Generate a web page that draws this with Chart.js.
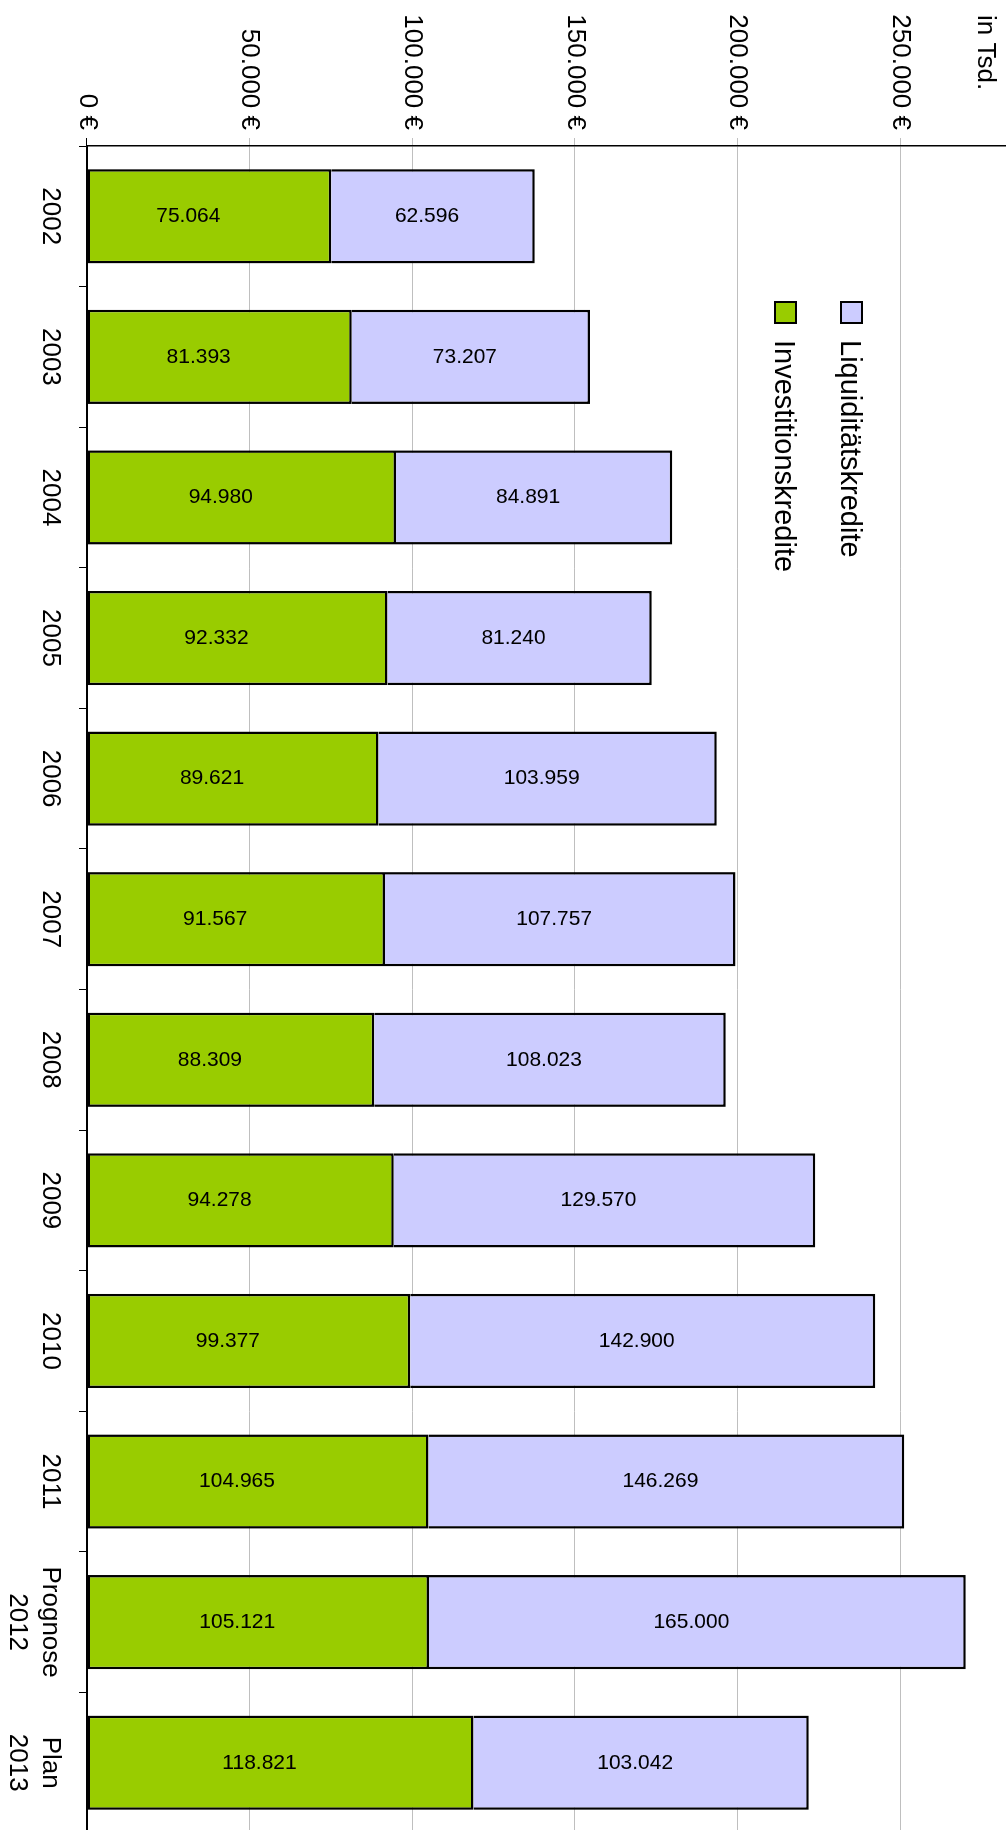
<!DOCTYPE html>
<html>
<head>
<meta charset="utf-8">
<script src="https://cdn.jsdelivr.net/npm/chart.js@4.4.1/dist/chart.umd.min.js"></script>
<style>
html,body{margin:0;padding:0;overflow:hidden;background:#fff;width:1006px;height:1830px;}
#wrap{position:absolute;left:0;top:0;width:1833px;height:1070px;transform-origin:0 0;transform:translate(1070px,0) rotate(90deg);}
canvas{display:block;}
</style>
</head>
<body>
<div id="wrap"><canvas id="c" width="1833" height="1070" style="width:1833px;height:1070px"></canvas></div>
<script>
// ---- data ----
const categories = ['2002','2003','2004','2005','2006','2007','2008','2009','2010','2011',['Prognose','2012'],['Plan','2013']];
const investitionskredite = [75064, 81393, 94980, 92332, 89621, 91567, 88309, 94278, 99377, 104965, 105121, 118821];
const liquiditaetskredite = [62596, 73207, 84891, 81240, 103959, 107757, 108023, 129570, 142900, 146269, 165000, 103042];
const seriesNames = ['Investitionskredite', 'Liquiditätskredite'];
const valueMin = 0, valueMax = 300000, valueStep = 50000;
const unitLabel = 'in Tsd.';

// ---- helpers ----
const FONT = '"Liberation Sans", Arial, sans-serif';
const fmt = v => String(Math.round(v)).replace(/\B(?=(\d{3})+(?!\d))/g, '.');
const labelShift = [21, 6];

const valueLabels = {
  id: 'valueLabels',
  afterDatasetsDraw(chart) {
    const ctx = chart.ctx;
    ctx.save();
    ctx.font = '21px ' + FONT;
    ctx.fillStyle = '#000';
    ctx.textAlign = 'center';
    ctx.textBaseline = 'middle';
    chart.data.datasets.forEach((ds, di) => {
      const meta = chart.getDatasetMeta(di);
      meta.data.forEach((bar, i) => {
        const cy = (bar.y + bar.base) / 2 + labelShift[di];
        ctx.save();
        ctx.translate(bar.x, cy);
        ctx.rotate(-Math.PI / 2);
        ctx.fillText(fmt(ds.data[i]), 0, 0);
        ctx.restore();
      });
    });
    ctx.restore();
  }
};

const customLegend = {
  id: 'customLegend',
  afterDraw(chart) {
    const ctx = chart.ctx, a = chart.chartArea;
    ctx.save();
    [1, 0].forEach((di, k) => {
      const ds = chart.data.datasets[di];
      const x = a.left + 156, y = a.top + 201 + k * 66, s = 21;
      ctx.fillStyle = ds.backgroundColor;
      ctx.fillRect(x, y, s, s);
      ctx.strokeStyle = '#000';
      ctx.lineWidth = 2;
      ctx.strokeRect(x, y, s, s);
      ctx.fillStyle = '#000';
      ctx.font = '29px ' + FONT;
      ctx.textAlign = 'left';
      ctx.textBaseline = 'middle';
      ctx.fillText(ds.label, x + 38, y + s / 2 + 2);
    });
    ctx.font = '26px ' + FONT;
    ctx.textAlign = 'left';
    ctx.textBaseline = 'middle';
    ctx.fillStyle = '#000';
    ctx.fillText(unitLabel, 15, a.top + 78);
    ctx.restore();
  }
};

new Chart(document.getElementById('c'), {
  type: 'bar',
  data: {
    labels: categories,
    datasets: [
      { label: seriesNames[0], data: investitionskredite, backgroundColor: '#99CC00', borderColor: '#000', borderWidth: 2.5, borderSkipped: false, barPercentage: 0.67, categoryPercentage: 1 },
      { label: seriesNames[1], data: liquiditaetskredite, backgroundColor: '#CCCCFF', borderColor: '#000', borderWidth: 2.5, borderSkipped: 'start', barPercentage: 0.67, categoryPercentage: 1 }
    ]
  },
  options: {
    responsive: false,
    animation: false,
    devicePixelRatio: 1,
    layout: { padding: { top: 7, left: 0, right: 0, bottom: 0 }, autoPadding: false },
    plugins: { legend: { display: false }, tooltip: { enabled: false } },
    scales: {
      x: {
        stacked: true,
        offset: true,
        grid: { display: true, drawOnChartArea: false, drawTicks: true, tickLength: 8, color: '#000', offset: true },
        border: { display: true, color: '#000', width: 1.5 },
        ticks: { autoSkip: false, maxRotation: 0, minRotation: 0, padding: 13, color: '#000', font: { family: FONT, size: 26, lineHeight: 1.25 } },
        afterFit: s => { s.height = 87; s.paddingLeft = 0; s.paddingRight = 0; }
      },
      y: {
        stacked: true,
        min: valueMin,
        max: valueMax,
        ticks: { stepSize: valueStep, padding: 8, color: '#000', font: { family: FONT, size: 26 }, callback: v => fmt(v) + ' €' },
        grid: { color: c => (c.tick && c.tick.value === 0) ? '#000' : '#BFBFBF', tickLength: 8, lineWidth: 1 },
        border: { display: true, color: '#000', width: 1.5 },
        afterFit: s => { s.width = 146; s.paddingTop = 0; s.paddingBottom = 0; }
      }
    }
  },
  plugins: [valueLabels, customLegend]
});
</script>
</body>
</html>
